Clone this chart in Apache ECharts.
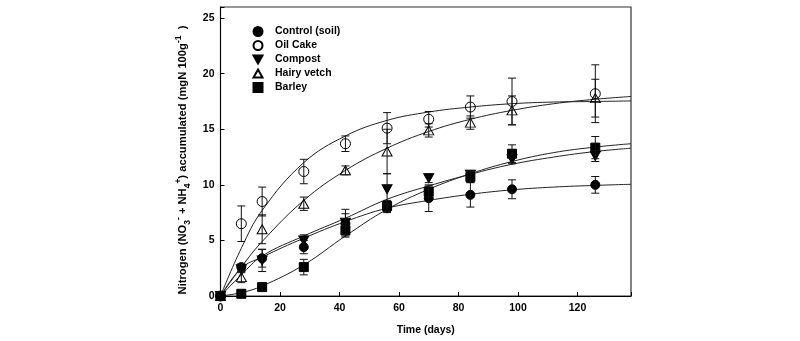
<!DOCTYPE html>
<html>
<head>
<meta charset="utf-8">
<script src="https://cdn.jsdelivr.net/npm/echarts@6/dist/echarts.min.js"></script>
<style>
  html, body { margin: 0; padding: 0; background: #fff; }
  #chart { width: 800px; height: 341px; }
</style>
</head>
<body>
<div id="chart"></div>
<script>
// ---- data ----
const days = [0, 7, 14, 28, 42, 56, 70, 84, 98, 126];

const controlVals = [0, 2.6, 3.4, 4.4, 6.5, 7.9, 8.8, 9.1, 9.6, 10.0];
const controlErr  = [0, 0.3, 0.8, 0.6, 0.9, 0.4, 1.2, 1.1, 0.85, 0.75];

const oilCakeVals = [0, 6.5, 8.5, 11.2, 13.7, 15.1, 15.9, 17.0, 17.5, 18.2];
const oilCakeErr  = [0, 1.6, 1.3, 1.1, 0.7, 1.4, 0.7, 1.0, 2.1, 2.6];

const compostVals = [0, 2.4, 3.2, 5.0, 6.6, 9.6, 10.6, 10.9, 12.3, 12.6];
const compostErr  = [0, 0.3, 1.0, 0.5, 1.2, 1.4, 0.4, 0.4, 0.4, 0.5];

const vetchVals = [0, 1.7, 6.0, 8.3, 11.3, 13.0, 14.9, 15.6, 16.7, 17.8];
const vetchErr  = [0, 0.5, 1.3, 0.6, 0.4, 2.0, 0.6, 0.6, 1.3, 1.7];

const barleyVals = [0, 0.2, 0.8, 2.6, 5.9, 8.1, 9.4, 10.7, 12.8, 13.35];
const barleyErr  = [0, 0.1, 0.3, 0.7, 0.6, 0.5, 0.5, 0.5, 0.8, 1.0];

// fitted curves
const curveDays    = [0, 7, 14, 28, 42, 56, 70, 84, 98, 112, 126, 138];
const controlCurve = [0, 2.5, 3.5, 5.2, 6.7, 7.9, 8.6, 9.15, 9.55, 9.8, 9.95, 10.05];
const oilCakeCurve = [0, 4.3, 7.7, 12.0, 14.4, 15.8, 16.55, 17.0, 17.3, 17.45, 17.5, 17.55];
const compostCurve = [0, 1.9, 3.6, 5.4, 7.0, 8.7, 9.9, 10.95, 11.85, 12.5, 13.0, 13.3];
const vetchCurve   = [0, 2.6, 4.9, 8.6, 11.3, 13.3, 14.8, 15.9, 16.7, 17.3, 17.7, 17.95];
const barleyCurve  = [0, 0.3, 0.9, 2.8, 5.4, 7.8, 9.6, 11.0, 12.1, 12.9, 13.4, 13.7];

const seriesNames = ['Control (soil)', 'Oil Cake', 'Compost', 'Hairy vetch', 'Barley'];
const xTicks = [0, 20, 40, 60, 80, 100, 120];
const yTicks = [0, 5, 10, 15, 20, 25];

// ---- chart ----
const FONT = 'Liberation Sans, Arial, sans-serif';
const chart = echarts.init(document.getElementById('chart'), null, { renderer: 'canvas' });

const groups = [
  { name: seriesNames[0], vals: controlVals, err: controlErr, curve: controlCurve, symbol: 'circle', size: 9, fill: '#000' },
  { name: seriesNames[1], vals: oilCakeVals, err: oilCakeErr, curve: oilCakeCurve, symbol: 'circle', size: 10, fill: 'rgba(255,255,255,0)' },
  { name: seriesNames[2], vals: compostVals, err: compostErr, curve: compostCurve, symbol: 'path://M0,0 L10,0 L5,9 Z', size: [10, 9], fill: '#000' },
  { name: seriesNames[3], vals: vetchVals, err: vetchErr, curve: vetchCurve, symbol: 'path://M5,0 L10,9 L0,9 Z', size: [10, 9], fill: 'rgba(255,255,255,0)' },
  { name: seriesNames[4], vals: barleyVals, err: barleyErr, curve: barleyCurve, symbol: 'rect', size: 9, fill: '#000' }
];

const series = [];
groups.forEach(g => {
  series.push({
    type: 'line',
    name: g.name + ' fit',
    data: curveDays.map((d, i) => [d, g.curve[i]]),
    smooth: 0.4,
    showSymbol: false,
    lineStyle: { color: '#222', width: 1 },
    silent: true,
    z: 2
  });
});
groups.forEach(g => {
  series.push({
    type: 'scatter',
    name: g.name,
    data: days.map((d, i) => [d, g.vals[i]]),
    symbol: g.symbol,
    symbolSize: g.size,
    itemStyle: { color: g.fill, borderColor: '#000', borderWidth: 1, opacity: 1 },
    z: 3
  });
});
groups.forEach(g => {
  series.push({
    type: 'custom',
    name: g.name + ' err',
    data: days.map((d, i) => [d, g.vals[i] - g.err[i], g.vals[i] + g.err[i]]).filter((r, i) => g.err[i] > 0),
    renderItem: function (params, api) {
      const lo = api.coord([api.value(0), api.value(1)]);
      const hi = api.coord([api.value(0), api.value(2)]);
      const w = 4;
      const st = { stroke: '#111', lineWidth: 1 };
      return {
        type: 'group',
        children: [
          { type: 'line', shape: { x1: lo[0], y1: lo[1], x2: hi[0], y2: hi[1] }, style: st },
          { type: 'line', shape: { x1: lo[0] - w, y1: lo[1], x2: lo[0] + w, y2: lo[1] }, style: st },
          { type: 'line', shape: { x1: hi[0] - w, y1: hi[1], x2: hi[0] + w, y2: hi[1] }, style: st }
        ]
      };
    },
    encode: { x: 0, y: [1, 2] },
    silent: true,
    z: 4
  });
});

const yTitle = '{b|Nitrogen (NO}{sub|3}{sup|-}{b| + NH}{sub|4}{sup|+}{b|) accumulated (mgN 100g}{sup|-1}{b|  )}';

chart.setOption({
  animation: false,
  backgroundColor: '#fff',
  textStyle: { fontFamily: FONT },
  grid: {
    left: 220.5, right: 169, top: 7, bottom: 45,
    show: true, borderColor: '#333', borderWidth: 1.2, backgroundColor: 'transparent'
  },
  legend: {
    data: seriesNames,
    orient: 'vertical',
    left: 247.5, top: 20.5,
    padding: 5,
    itemWidth: 9, itemHeight: 9, itemGap: 2,
    textStyle: { fontFamily: FONT, fontWeight: 'bold', fontSize: 10.5, lineHeight: 12, color: '#000', padding: [0, 0, 0, 7.5] }
  },
  xAxis: {
    type: 'value', min: 0, max: 138, interval: 20,
    name: 'Time (days)', nameLocation: 'middle', nameGap: 29,
    nameTextStyle: { fontFamily: FONT, fontWeight: 'bold', fontSize: 10.5, color: '#000' },
    axisLine: { show: true, lineStyle: { color: '#000', width: 1 } },
    axisTick: { show: true, inside: true, length: 4, lineStyle: { color: '#000' } },
    axisLabel: {
      color: '#000', fontWeight: 'bold', fontSize: 10.5, fontFamily: FONT, margin: 7,
      formatter: v => (xTicks.indexOf(v) >= 0 ? String(v) : '')
    },
    splitLine: { show: false }
  },
  yAxis: {
    type: 'value', min: 0, max: 26, interval: 5,
    axisLine: { show: true, lineStyle: { color: '#000', width: 1 } },
    axisTick: { show: true, inside: true, length: 4, lineStyle: { color: '#000' } },
    axisLabel: {
      color: '#000', fontWeight: 'bold', fontSize: 10.5, fontFamily: FONT, margin: 6,
      formatter: v => (yTicks.indexOf(v) >= 0 ? String(v) : '')
    },
    splitLine: { show: false }
  },
  graphic: [{
    type: 'text',
    x: 183, y: 160,
    rotation: Math.PI / 2,
    style: {
      text: yTitle,
      align: 'center',
      verticalAlign: 'middle',
      fill: '#000',
      rich: {
        b: { fontFamily: FONT, fontWeight: 'bold', fontSize: 11.2, lineHeight: 18, verticalAlign: 'middle', fill: '#000' },
        sub: { fontFamily: FONT, fontWeight: 'bold', fontSize: 8.5, lineHeight: 9, verticalAlign: 'bottom', fill: '#000' },
        sup: { fontFamily: FONT, fontWeight: 'bold', fontSize: 8.5, lineHeight: 9, verticalAlign: 'top', fill: '#000' }
      }
    }
  }],
  series: series
});
</script>
</body>
</html>
